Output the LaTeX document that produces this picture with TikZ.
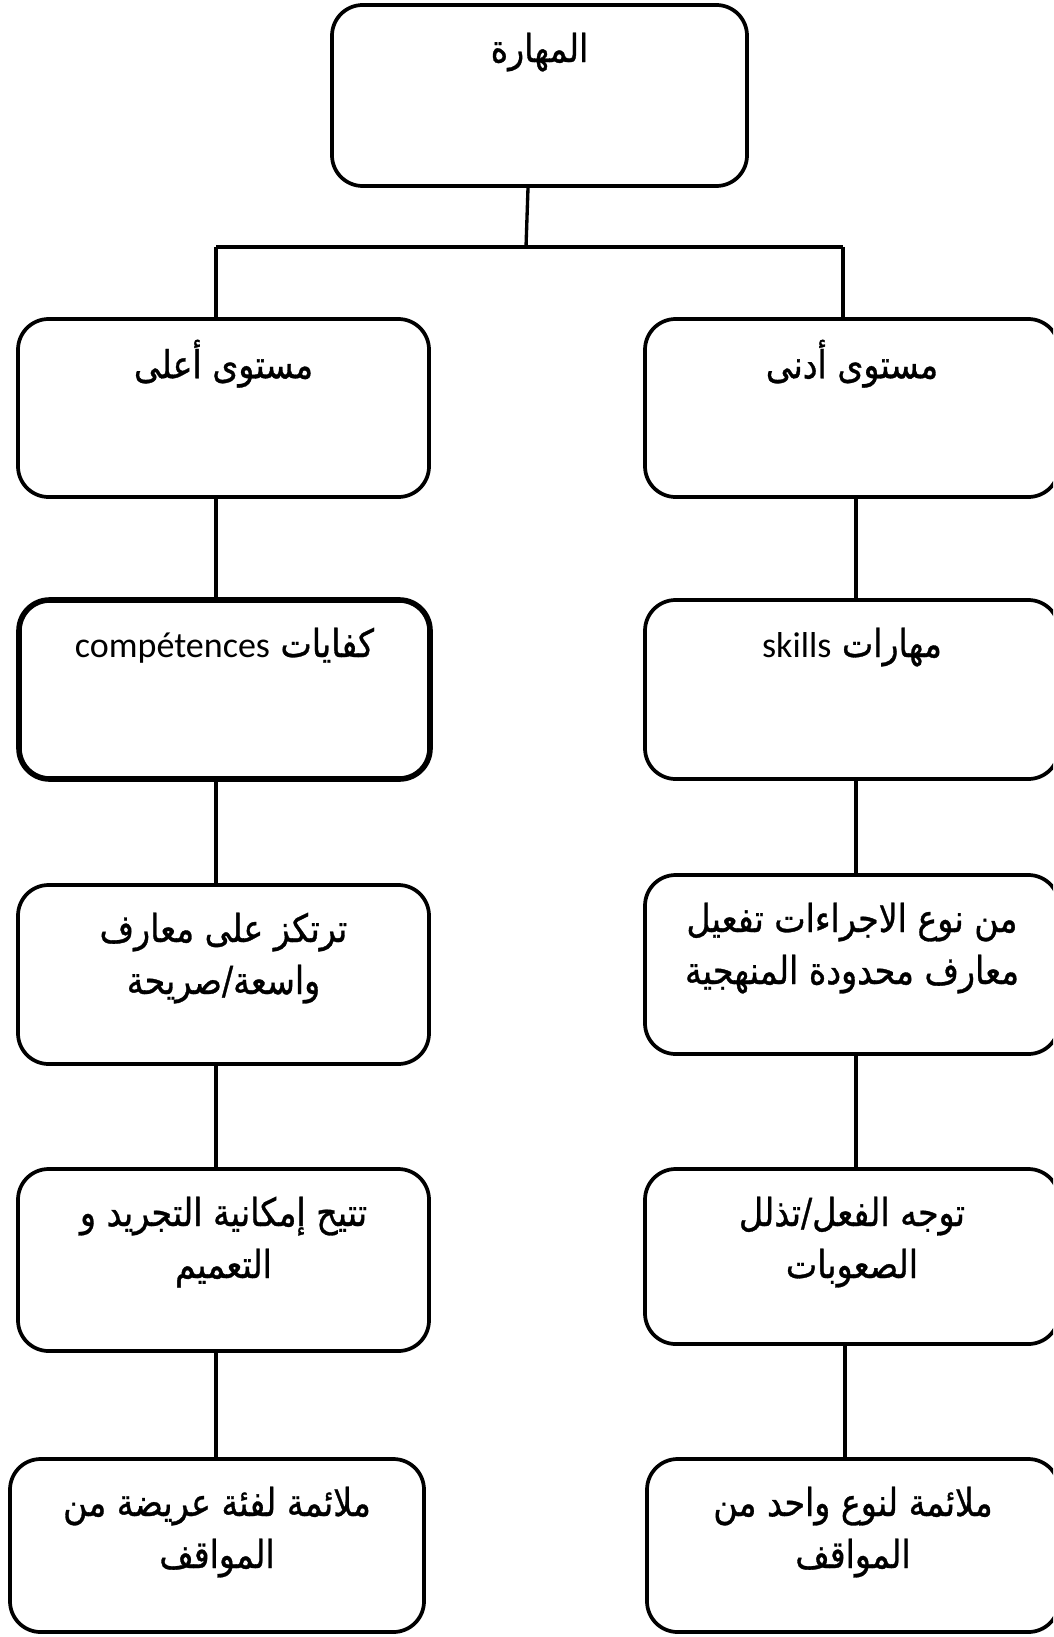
\documentclass[tikz,border=0pt]{standalone}
\usepackage{fontspec}
\usetikzlibrary{calc}
\TeXXeTstate=1
\newfontfamily\arabicfont[Script=Arabic,FakeBold=0.8,FakeStretch=0.86]{DejaVu Sans}
\newfontfamily\latinfont{Carlito}
% one right-to-left line of a box
\newcommand\rtlline[1]{\strut\beginR#1\endR}
% Latin word inside a right-to-left line
\newcommand\latinword[1]{\beginL{\latinfont\fontsize{27pt}{39pt}\selectfont #1}\endL}
% text of a box: width, height, lines (set from the top of the box)
\newcommand\boxcontent[3]{%
  \parbox[c][#2][t]{#1}{\centering\arabicfont\fontsize{29pt}{39pt}\selectfont
    \vspace*{15.5pt}#3}}
\tikzset{
  box/.style={draw, line width=2.8pt, rounded corners=23pt, inner sep=0pt, fill=white},
  thickbox/.style={box, line width=4.2pt},
  link/.style={line width=2.5pt}
}
\begin{document}
\begin{tikzpicture}[x=0.75pt,y=-0.75pt]
  \useasboundingbox (0,0) rectangle (1053,1637);
  \fill[white] (0,0) rectangle (1053,1637);
  \clip (0,0) rectangle (1053,1637);

  % root
  \node[box] (top) at (539.5,95.5)
    {\boxcontent{311.25pt}{135.75pt}{\rtlline{المهارة}}};

  % left column
  \node[box] (l1) at (223.5,408)
    {\boxcontent{308.25pt}{133.5pt}{\rtlline{مستوى أعلى}}};
  \node[thickbox] (l2) at (224.5,689.5)
    {\boxcontent{308.25pt}{134.25pt}{\rtlline{كفايات \latinword{compétences}}}};
  \node[box] (l3) at (223.5,974.5)
    {\boxcontent{308.25pt}{134.25pt}{\rtlline{ترتكز على معارف}\\\rtlline{واسعة/صريحة}}};
  \node[box] (l4) at (223.5,1260)
    {\boxcontent{308.25pt}{136.5pt}{\rtlline{تتيح إمكانية التجريد و}\\\rtlline{التعميم}}};
  \node[box] (l5) at (217,1545.5)
    {\boxcontent{310.5pt}{129.75pt}{\rtlline{ملائمة لفئة عريضة من}\\\rtlline{المواقف}}};

  % right column
  \node[box] (r1) at (852,408)
    {\boxcontent{310.5pt}{133.5pt}{\rtlline{مستوى أدنى}}};
  \node[box] (r2) at (852,689.5)
    {\boxcontent{310.5pt}{134.25pt}{\rtlline{مهارات \latinword{skills}}}};
  \node[box] (r3) at (852,964.5)
    {\boxcontent{310.5pt}{134.25pt}{\rtlline{من نوع الاجراءات تفعيل}\\\rtlline{معارف محدودة المنهجية}}};
  \node[box] (r4) at (852,1256.5)
    {\boxcontent{310.5pt}{131.25pt}{\rtlline{توجه الفعل/تذلل}\\\rtlline{الصعوبات}}};
  \node[box] (r5) at (853,1545.5)
    {\boxcontent{309pt}{129.75pt}{\rtlline{ملائمة لنوع واحد من}\\\rtlline{المواقف}}};

  % branching bar under the root
  \coordinate (hmid) at (526,247);
  \coordinate (hl) at (216,247);
  \coordinate (hr) at (843,247);
  \coordinate (rc) at (856,0);
  \coordinate (rc5) at (845,0);
  \draw[link] ($(top.south)+(-11.5,0)$) -- (hmid);
  \draw[link] (hl) -- (hr);
  \draw[link] (hl) -- (hl |- l1.north);
  \draw[link] (hr) -- (hr |- r1.north);

  % left chain
  \draw[link] (l1.south -| hl) -- (l2.north -| hl);
  \draw[link] (l2.south -| hl) -- (l3.north -| hl);
  \draw[link] (l3.south -| hl) -- (l4.north -| hl);
  \draw[link] (l4.south -| hl) -- (l5.north -| hl);

  % right chain
  \draw[link] (r1.south -| rc) -- (r2.north -| rc);
  \draw[link] (r2.south -| rc) -- (r3.north -| rc);
  \draw[link] (r3.south -| rc) -- (r4.north -| rc);
  \draw[link] (r4.south -| rc5) -- (r5.north -| rc5);
\end{tikzpicture}
\end{document}
